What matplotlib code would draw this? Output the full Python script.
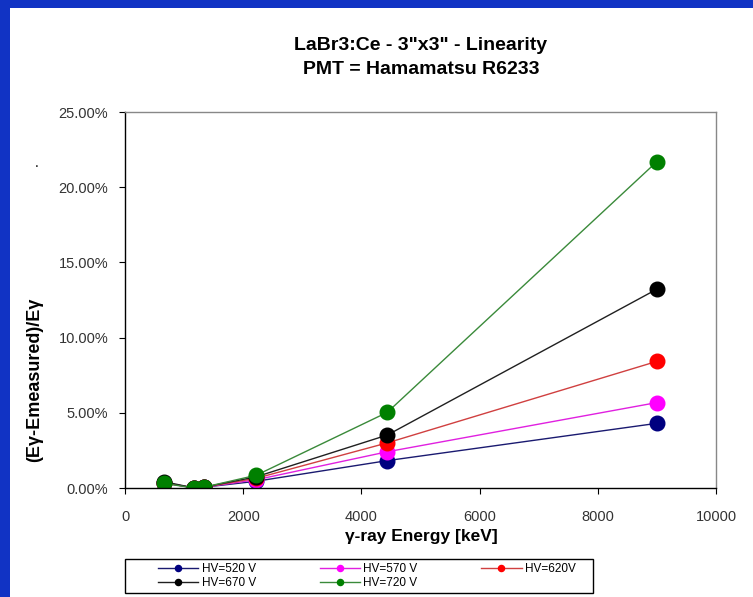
import matplotlib.pyplot as plt
from matplotlib.patches import Rectangle
from matplotlib.ticker import FuncFormatter

# gamma line energies [keV]
energy = [662, 1173, 1332, 2223, 4438, 9000]

# relative deviation (E - Emeasured)/E in percent, one list per high voltage
hv_labels = ["HV=520 V", "HV=570 V", "HV=620V", "HV=670 V", "HV=720 V"]
dev_520 = [0.35, 0.00, 0.05, 0.45, 1.82, 4.30]
dev_570 = [0.35, 0.00, 0.05, 0.55, 2.41, 5.68]
dev_620 = [0.35, 0.00, 0.05, 0.65, 3.00, 8.42]
dev_670 = [0.42, 0.00, 0.05, 0.75, 3.52, 13.22]
dev_720 = [0.30, 0.00, 0.05, 0.85, 5.03, 21.70]

series = [dev_520, dev_570, dev_620, dev_670, dev_720]
line_colors = ["#1a1a70", "#e020e0", "#d04040", "#202020", "#3a8a3a"]
marker_colors = ["#000080", "#ff00ff", "#ff0000", "#000000", "#008000"]

plt.rcParams["font.family"] = ["Liberation Sans", "DejaVu Sans"]

W, H = 753, 597
fig = plt.figure(figsize=(W / 100, H / 100), dpi=100, facecolor="#1133c4")

# white slide panel inside the blue border
panel = fig.add_axes([10 / W, 0, 1 - 10 / W, 1 - 8 / H])
panel.set_facecolor("white")
panel.set_xticks([])
panel.set_yticks([])
for s in panel.spines.values():
    s.set_visible(False)
panel.set_zorder(-1)

ax = fig.add_axes([125 / W, (H - 488) / H, (716 - 125) / W, (488 - 112) / H])
ax.set_facecolor("white")

lines = []
for ys, lc, mc, lab in zip(series, line_colors, marker_colors, hv_labels):
    ln, = ax.plot(energy, ys, color=lc, lw=1.0, marker="o", ms=10.5,
                  markerfacecolor=mc, markeredgecolor=mc, label=lab)
    lines.append(ln)

ax.set_xlim(0, 10000)
ax.set_ylim(0, 25)
ax.set_xticks(range(0, 10001, 2000))
ax.set_yticks(range(0, 26, 5))
ax.yaxis.set_major_formatter(FuncFormatter(lambda v, p: "%.2f%%" % v))
ax.tick_params(axis="both", direction="out", length=4, width=0.8,
               labelsize=10.5, labelcolor="#333333")
ax.tick_params(axis="x", pad=12)
ax.tick_params(axis="y", pad=8)

ax.spines["left"].set_color("black")
ax.spines["bottom"].set_color("black")
ax.spines["top"].set_color("#888888")
ax.spines["right"].set_color("#888888")
for s in ax.spines.values():
    s.set_linewidth(1.0)

fig.text(421 / W, 1 - 45 / H, "LaBr3:Ce - 3\"x3\" - Linearity",
         ha="center", va="center", fontsize=14, fontweight="bold")
fig.text(421 / W, 1 - 70 / H, "PMT = Hamamatsu R6233",
         ha="center", va="center", fontsize=14, fontweight="bold")

fig.text(35 / W, 1 - 380 / H, "(E\u03b3-Emeasured)/E\u03b3", rotation=90,
         ha="center", va="center", fontsize=13, fontweight="bold")
fig.text(37 / W, 1 - 163 / H, ".", ha="center", va="center", fontsize=10)
fig.text(421 / W, 1 - 537 / H, "\u03b3-ray Energy [keV]",
         ha="center", va="center", fontsize=12.5, fontweight="bold")

# legend box, entries laid out row by row
fig.add_artist(Rectangle((125 / W, (H - 593) / H), (593 - 125) / W, 34 / H,
                         transform=fig.transFigure, facecolor="white",
                         edgecolor="black", lw=1.0))
order = [0, 3, 1, 4, 2]
leg = fig.legend([lines[i] for i in order], [hv_labels[i] for i in order],
                 loc="center left", ncol=3, bbox_to_anchor=(158 / W, (H - 576) / H),
                 fontsize=8.5, frameon=False, borderpad=0, labelspacing=0.15,
                 handlelength=3.4, handletextpad=0.3, columnspacing=5.4,
                 markerscale=0.42, borderaxespad=0)

fig.savefig("out.png", dpi=100, facecolor=fig.get_facecolor())
